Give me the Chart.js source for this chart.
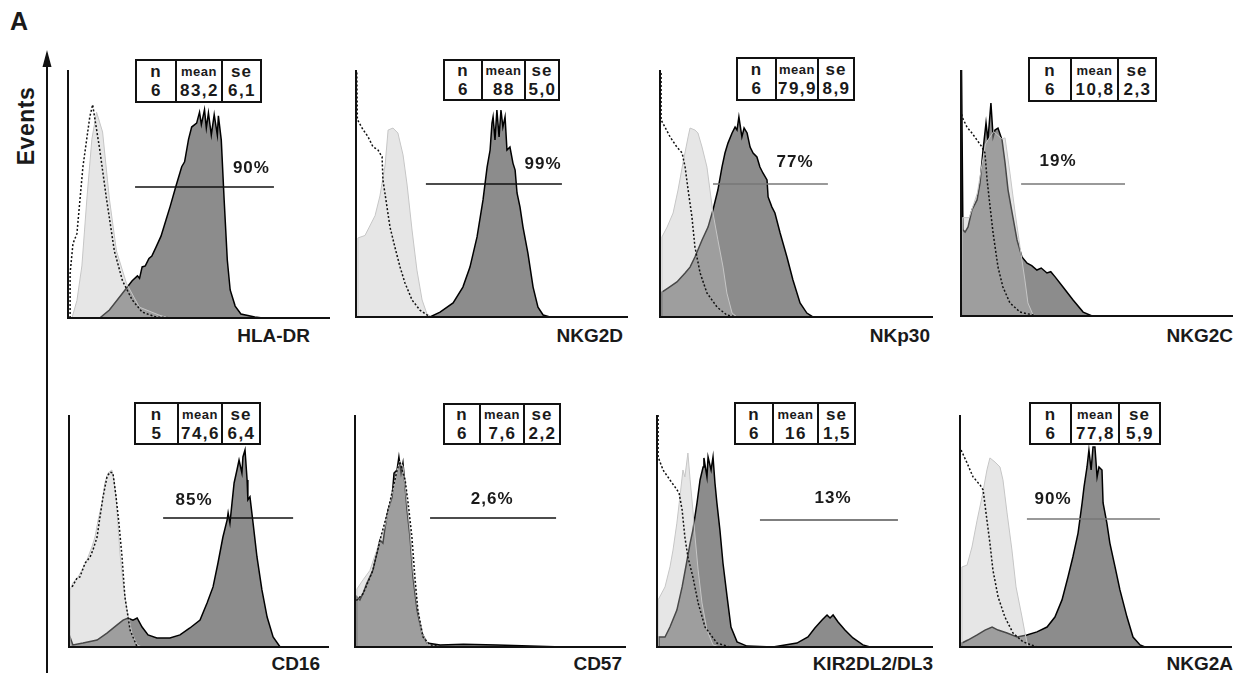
<!DOCTYPE html>
<html>
<head>
<meta charset="utf-8">
<script src="https://cdn.jsdelivr.net/npm/chart.js@4.4.0/dist/chart.umd.min.js"></script>
<style>
  body{margin:0;background:#fff;width:1235px;height:673px;position:relative;overflow:hidden;font-family:"Liberation Sans",Arial,sans-serif;color:#1a1a1a;}
  canvas{position:absolute}
  .lbl{position:absolute;font-weight:bold;font-size:19px;line-height:19px;white-space:nowrap}
  .tbl{position:absolute;display:flex;border:2px solid #111;box-sizing:border-box;background:#fff}
  .tbl .col{display:flex;flex-direction:column;align-items:center;font-weight:bold;box-sizing:border-box}
  .tbl .col + .col{border-left:2px solid #111}
  .tbl .hd{height:19px;line-height:19px;font-size:17px;letter-spacing:1px}
  .tbl .hd.small{font-size:13px;letter-spacing:0.5px}
  .tbl .val{height:20px;line-height:20px;font-size:17px;letter-spacing:1.5px;padding-left:1px}
</style>
</head>
<body>
<div class="lbl" style="left:10px;top:9px;font-size:25px;line-height:25px">A</div>
<div class="lbl" style="left:26px;top:126px;font-size:23px;line-height:23px;letter-spacing:0.5px;transform:translate(-50%,-50%) rotate(-90deg)">Events</div>
<svg style="position:absolute;left:38px;top:45px" width="20" height="628">
  <line x1="9" y1="14" x2="9" y2="628" stroke="#111" stroke-width="2"/>
  <polygon points="9,5 4.5,22 13.5,22" fill="#111"/>
</svg>
<script>
// histogram values: [fluorescence (% of scale), events (% of max)]
// light gray = isotype, dotted = control, dark = stained
const hladrIsotype = [[1.5,0],[3.4,7],[5.3,21],[7.2,48],[9.1,72],[10.9,83],[13.2,75],[15.8,48],[18.5,27],[22.3,14],[27.2,4.4],[34.7,1.2],[38.5,0]];
const hladrControl = [[0.8,0],[0.8,18],[1.9,30],[3.4,34],[5.7,61],[8.3,81],[9.4,86],[12.1,68],[14.7,48],[17.7,27],[20.8,15],[24.5,7.3],[28.3,2.4],[33.6,0.4],[40.4,0]];
const hladrStain = [[12.1,0],[15.8,3.2],[20.8,10],[24.5,15],[26.5,17],[27.3,16],[28.3,20.6],[29.5,21],[30.9,24],[32,25],[33.6,28.6],[35.5,33],[37.4,39.5],[39,45],[41.1,52.8],[43.4,61],[44.5,63],[46,72],[47.2,77],[49.1,78.6],[50.2,83],[50.9,78],[52.1,84],[52.8,76.6],[53.6,82.7],[54.7,73.8],[55.8,82],[57,73.8],[57.4,81.5],[58.5,71.8],[59.6,47.6],[60.8,23.4],[61.9,11.3],[63.8,4.8],[66,1.6],[71.3,0.4],[74.3,0]];

const nkg2dIsotype = [[0.4,0],[0.7,32],[3.3,33],[7,41],[8.8,49],[10.7,61.5],[11.8,75.7],[13.6,76.5],[15.4,74.5],[17.3,65.6],[18.8,53.4],[20.6,35.2],[22.4,19],[24.3,6.9],[26.1,1.2],[27.9,0]];
const nkg2dControl = [[0.3,99],[0.5,80],[2.5,76],[4.4,73],[6.2,69],[8.1,67.6],[9.6,64.8],[9.9,55.5],[11.4,44.5],[12.5,36.4],[14.3,28.3],[16.2,20.2],[18,13.8],[20.6,6.9],[23.5,2.8],[27.2,0]];
const nkg2dStain = [[27.2,0],[30.9,2],[35.7,5.7],[39.3,12.1],[41.9,20.2],[44.5,32.4],[46.7,47.4],[48.2,60.7],[49.3,67.6],[50,78.5],[50.4,81],[51.1,71.7],[51.8,83.8],[52.6,72.9],[53.3,83.8],[54,76.9],[54.8,81],[55.5,67.6],[56.6,68.8],[57.7,62.3],[58.5,59.5],[59.2,50.2],[60.3,44.5],[61.4,36.4],[63.2,25.9],[65.1,12.1],[66.9,4],[68.8,0.8],[71.3,0]];

const nkp30Isotype = [[0.4,0],[0.7,32.4],[2.6,36.4],[4.8,42.1],[6.6,51.4],[8.4,62.3],[10.3,72.9],[11,76.5],[12.8,75.7],[13.9,74.5],[15.4,68.8],[17.2,60.7],[18.3,51.4],[19.4,42.1],[21.2,31.2],[23.1,20.2],[24.5,9.7],[26.4,1.6],[28.2,0]];
const nkp30Control = [[0.4,98.8],[0.4,79.8],[1.8,76.9],[3.7,72.9],[6.2,68.8],[8.1,66.4],[9.2,60.7],[10.3,51.4],[11.7,40.5],[12.8,28.3],[14.7,17.8],[17.2,9.7],[20.9,4],[24.5,0.8],[28.2,0]];
const nkp30Stain = [[0.4,0],[0.7,10.1],[2.9,11.7],[6.2,14.2],[9.2,17.8],[11,20.2],[12.8,24.3],[15.4,31.2],[17.6,36.4],[19.4,43.3],[21.2,51.4],[22.7,60.7],[23.8,66.4],[24.9,70.4],[26.4,74.5],[27.5,76.9],[28.2,75.7],[28.9,81],[30,72.9],[30.8,76.5],[31.9,74.5],[33,68.8],[34.1,66.4],[35.5,64.8],[36.6,60.7],[37.7,58.3],[39.2,55.5],[39.6,48.6],[41,44.5],[42.1,42.1],[44,34],[46.5,24.3],[48.7,15],[51.3,5.7],[53.8,1.6],[56,0]];

const nkg2cIsotype = [[0.3,0],[0.5,40],[3,40],[6,50],[9,70],[12,75],[15,72],[16.2,72.4],[18,58.1],[19.9,41.9],[21.7,28],[23.5,14.6],[24.6,5.3],[26.5,0.4],[28,0]];
const nkg2cControl = [[0.3,82],[0.4,80.9],[2.2,76.8],[4,74.4],[5.9,71.5],[7.7,68.7],[8.8,66.3],[9.6,55.3],[10.7,44.3],[11.8,33.7],[13.6,19.9],[15.4,11.8],[18,5.3],[21.7,1.6],[27.9,0]];
const nkg2cStain = [[0.2,0],[0.2,100],[0.7,35],[1.5,34.1],[2.6,36.2],[4,43.1],[5.9,47.2],[7,54.1],[8.1,67.5],[9.2,78.5],[9.9,71.5],[11,86.6],[11.8,72.8],[12.5,75.6],[13.6,76.4],[15.1,71.5],[16.2,62.2],[17.3,51.2],[18.8,41.9],[20.6,30.9],[22.4,24],[24.3,21.5],[26,20.5],[27.9,18.7],[29.5,19.5],[31.6,17.5],[33,18],[34.6,15.9],[37.5,11.8],[41.2,6.5],[44.9,1.6],[48.2,0]];

const cd16Isotype = [[0.4,0],[0.4,24.6],[1.5,27.6],[3.5,30.2],[5,33.2],[6.9,37.5],[8.8,43.1],[10,47.4],[11.2,54.7],[12.7,62.1],[13.8,70.7],[15,75],[16.5,76.3],[17.3,72],[18.1,64.7],[18.8,53.4],[19.6,40.5],[20.8,27.6],[22.3,15.9],[24.2,6],[26.2,0.9],[28.1,0]];
const cd16Control = [[1.2,25.9],[3.1,29.7],[4.2,30.2],[6.2,36.2],[8.1,38.8],[9.2,41.8],[10.8,47.4],[11.9,56],[13.1,64.7],[14.6,73.3],[15.8,75.4],[16.9,75],[18.1,64.7],[19.2,53.4],[20.4,38.8],[21.5,21.6],[23.5,7.3],[26.2,0]];
const cd16Stain = [[0,0],[0.4,4.3],[1.5,0.9],[5.4,1.7],[10.8,3],[14.6,6],[18.5,9.5],[20.8,11.6],[22.7,12.5],[24.6,11.6],[26.2,12.5],[28.1,8.6],[30.4,5.2],[33.8,3.9],[38.8,3.9],[42.7,5.2],[46.5,8.2],[50.4,11.6],[53.1,19],[55.4,25.9],[57.3,36.2],[59.2,47.4],[60.8,54.7],[61.2,57.8],[61.9,53.4],[62.7,62.1],[63.5,70.7],[64.6,76.3],[65.4,80.6],[66.5,75],[66.9,81.9],[67.7,84.9],[68.5,72],[68.8,63.4],[69.6,64.7],[70.8,53.4],[72.3,38.8],[74.2,24.6],[76.2,12.9],[78.5,4.3],[81.2,0]];

const cd57Isotype = [[0.4,0],[0.7,25],[3,29],[5.5,33],[8.1,42],[11,52],[13.7,66],[15.5,76],[16.5,80],[17.7,78],[19.2,62],[20.3,50],[21.4,33],[23,17],[24.7,6],[27,1],[30,0]];
const cd57Control = [[0.5,20],[3,23],[6.6,33],[9.2,46],[12.2,59],[15.5,76],[16.5,80],[18.5,72],[19.6,62.1],[21,47.4],[22.1,30.2],[23.2,15.9],[25.1,4.3],[27.7,0.9],[32,0]];
const cd57Stain = [[0.4,0],[0.7,21.6],[1.8,20.3],[3,23.3],[4.4,27.6],[5.5,30.2],[6.6,33.2],[8.1,40.5],[9.2,46.1],[10.3,44.8],[11.1,51.7],[12.2,59.1],[13.7,64.7],[14.4,75],[15.5,76.3],[16.2,81.9],[17,75],[17.7,79.3],[18.5,69],[19.2,59.1],[20.3,47.4],[21.4,30.2],[22.9,15.9],[24.7,6],[26.6,1.7],[31.4,0.9],[40,1.2],[52.4,0.9],[64.6,0.4],[76.8,0]];

const kirIsotype = [[0.4,0],[0.4,20.3],[2.9,25.9],[4.7,34.5],[5.8,41.8],[7.2,53.4],[8.3,64.7],[9.4,76.3],[10.1,73.3],[11.2,83.6],[12,72],[13,59.1],[13.8,47.4],[14.9,33.2],[16.3,19],[18.1,7.3],[20.3,0.9],[22.8,0]];
const kirControl = [[0.4,100],[0.4,81.9],[2.2,76.3],[4.7,72],[6.5,69],[8,66.4],[9.1,59.1],[10.1,47.4],[11.2,38.8],[13,30.2],[14.9,19],[17.4,8.6],[21.7,1.7],[26.4,0]];
const kirStain = [[0.4,0],[0.7,4.3],[2.9,4.3],[4.7,8.6],[7.2,15.9],[9.1,25.9],[10.9,37.5],[12,44.8],[13,50.4],[14.5,62.1],[15.6,72],[16.7,77.6],[17,81.5],[18.1,73.3],[18.5,81.9],[19.6,76.3],[20.3,81.9],[21,70.7],[21.7,62.1],[22.8,50.4],[23.9,36.2],[25.4,21.6],[26.8,8.6],[29,2.2],[32.6,0.4],[42,0],[50.7,1.7],[54.7,4.3],[57.2,8.2],[59.8,11.6],[61.6,13.8],[62.7,12.5],[63.8,13.8],[65.6,10.8],[68.1,7.3],[71,3.9],[74.6,0.9],[77.2,0]];

const nkg2aIsotype = [[0.4,0],[0.7,34.5],[2.6,35.3],[4.4,43.1],[6.3,54.7],[8.1,64.7],[9.9,76.3],[11,81.5],[12.9,79.7],[14.7,77.6],[15.8,72],[17.3,57.8],[19.1,41.8],[20.6,25.9],[22.8,12.9],[23.9,6],[25,0]];
const nkg2aControl = [[0.4,84.9],[2.6,79.3],[4.8,73.3],[7.4,69.8],[8.5,67.7],[9.9,54.7],[11,44.8],[12.1,33.2],[14,21.6],[16.5,12.9],[19.5,6],[23.2,2.2],[28.3,0]];
const nkg2aStain = [[0.4,0],[0.7,1.7],[2.9,3],[6.3,5.2],[9.2,7.3],[11.8,8.6],[14,7.3],[17.3,6],[21,4.3],[24.6,5.2],[28.3,6.5],[32,8.6],[34.9,12.9],[37.5,20.3],[39.7,30.2],[41.5,38.8],[43.4,49.1],[44.9,62.1],[45.6,69],[46.7,77.6],[47.4,84.9],[48.2,76.3],[48.9,86.2],[49.6,86.2],[50.4,73.3],[51.1,77.6],[52.2,76.3],[52.6,62.1],[54,53.4],[55.1,44.8],[57,34.5],[58.8,24.6],[61.4,12.9],[63.6,4.3],[66.2,0.9],[68,0]];

const markers = ['HLA-DR','NKG2D','NKp30','NKG2C','CD16','CD57','KIR2DL2/DL3','NKG2A'];
const nValues = ['6','6','6','6','5','6','6','6'];
const meanValues = ['83,2','88','79,9','10,8','74,6','7,6','16','77,8'];
const seValues = ['6,1','5,0','8,9','2,3','6,4','2,2','1,5','5,9'];
const pctLabels = ['90%','99%','77%','19%','85%','2,6%','13%','90%'];
const gateStart = [25.6,25.7,19.4,22.1,36.2,27.7,37.3,24.6];
const gateEnd = [78.6,75.7,61.5,60.3,86.2,74.2,87.3,73.5];
const gateLevel = [52.8,53.8,53.8,53.7,55.6,55.6,54.7,55.2];

const isotypes = [hladrIsotype,nkg2dIsotype,nkp30Isotype,nkg2cIsotype,cd16Isotype,cd57Isotype,kirIsotype,nkg2aIsotype];
const controls = [hladrControl,nkg2dControl,nkp30Control,nkg2cControl,cd16Control,cd57Control,kirControl,nkg2aControl];
const stains = [hladrStain,nkg2dStain,nkp30Stain,nkg2cStain,cd16Stain,cd57Stain,kirStain,nkg2aStain];

// page layout per panel: plot box, label anchor, table box
const panels = [
  {plot:[68,70,262,248],  lblRight:310,  lblTop:326, pct:[70,60.5],   gateColor:'#111', tbl:[135,59,[38,46,39],44]},
  {plot:[356,70,272,247], lblRight:623,  lblTop:326, pct:[68.8,62],   gateColor:'#111', tbl:[443,59,[36,43,34],42]},
  {plot:[660,70,273,247], lblRight:930,  lblTop:326, pct:[49.5,62.8], gateColor:'#777', tbl:[736,57,[37,42,36],44]},
  {plot:[961,70,272,246], lblRight:1233, lblTop:326, pct:[35.7,63],   gateColor:'#777', tbl:[1028,57,[40,47,38],45]},
  {plot:[69,415,260,232], lblRight:320,  lblTop:654, pct:[48.1,63.4], gateColor:'#111', tbl:[134,402,[41,44,38],43]},
  {plot:[355,415,271,232],lblRight:622,  lblTop:654, pct:[50.6,63.8], gateColor:'#111', tbl:[443,403,[34,44,36],42]},
  {plot:[657,415,276,232],lblRight:933,  lblTop:654, pct:[63.8,64.2], gateColor:'#555', tbl:[734,402,[36,45,37],43]},
  {plot:[960,415,272,232],lblRight:1233, lblTop:654, pct:[34.2,63.8], gateColor:'#777', tbl:[1029,402,[39,48,41],43]}
];

const toXY = arr => arr.map(p => ({x:p[0], y:p[1]}));

const frame = {
  id:'frame',
  afterDatasetsDraw(chart){
    const {ctx, chartArea:a, scales} = chart;
    const i = chart.options.plugins.frame.index;
    const p = panels[i];
    ctx.save();
    ctx.strokeStyle = '#111';
    ctx.lineWidth = 2;
    ctx.beginPath();
    ctx.moveTo(a.left, a.top);
    ctx.lineTo(a.left, a.bottom);
    ctx.lineTo(a.right, a.bottom);
    ctx.stroke();
    ctx.fillStyle = '#1a1a1a';
    ctx.font = 'bold 17px "Liberation Sans", Arial, sans-serif';
    if('letterSpacing' in ctx) ctx.letterSpacing = '1px';
    ctx.textAlign = 'center';
    ctx.textBaseline = 'middle';
    ctx.fillText(pctLabels[i], scales.x.getPixelForValue(p.pct[0]), scales.y.getPixelForValue(p.pct[1]));
    ctx.restore();
  }
};

panels.forEach((p, i) => {
  const [left, top, w, h] = p.plot;
  const cv = document.createElement('canvas');
  cv.width = w + 6; cv.height = h + 5;
  cv.style.left = (left - 3) + 'px';
  cv.style.top = (top - 2) + 'px';
  document.body.appendChild(cv);

  new Chart(cv, {
    type:'line',
    data:{
      datasets:[
        { data: toXY([[gateStart[i], gateLevel[i]], [gateEnd[i], gateLevel[i]]]), borderColor:p.gateColor, borderWidth:1.5, fill:false, order:1 },
        { data: toXY(controls[i]), borderColor:'#111', borderWidth:1.5, borderDash:[2,2], fill:false, order:2 },
        { data: toXY(isotypes[i]), borderColor:'#c6c6c6', borderWidth:1, backgroundColor:'rgba(190,190,190,0.38)', fill:'origin', order:3 },
        { data: toXY(stains[i]), borderColor:'#000', borderWidth:1.5, backgroundColor:'#8c8c8c', fill:'origin', order:4 }
      ]
    },
    options:{
      responsive:false,
      animation:false,
      events:[],
      devicePixelRatio:1,
      layout:{ padding:{left:3, top:2, right:3, bottom:3} },
      elements:{ point:{ radius:0 }, line:{ tension:0 } },
      scales:{
        x:{ type:'linear', min:0, max:100, display:false },
        y:{ min:0, max:100, display:false }
      },
      plugins:{ legend:{display:false}, tooltip:{enabled:false}, frame:{ index:i } }
    },
    plugins:[frame]
  });

  const lbl = document.createElement('div');
  lbl.className = 'lbl';
  lbl.textContent = markers[i];
  lbl.style.right = (1235 - p.lblRight) + 'px';
  lbl.style.top = p.lblTop + 'px';
  document.body.appendChild(lbl);

  const [tl, tt, cols, th] = p.tbl;
  const tbl = document.createElement('div');
  tbl.className = 'tbl';
  tbl.style.left = tl + 'px';
  tbl.style.top = tt + 'px';
  tbl.style.height = th + 'px';
  const cells = [['n', nValues[i]], ['mean', meanValues[i]], ['se', seValues[i]]];
  tbl.innerHTML = cells.map((c, k) =>
    `<div class="col" style="width:${cols[k]}px;padding-top:${Math.max(0,(th-44)/2+1)}px">
       <div class="hd${c[0]==='mean' ? ' small' : ''}">${c[0]}</div>
       <div class="val">${c[1]}</div>
     </div>`).join('');
  document.body.appendChild(tbl);
});
</script>
</body>
</html>
